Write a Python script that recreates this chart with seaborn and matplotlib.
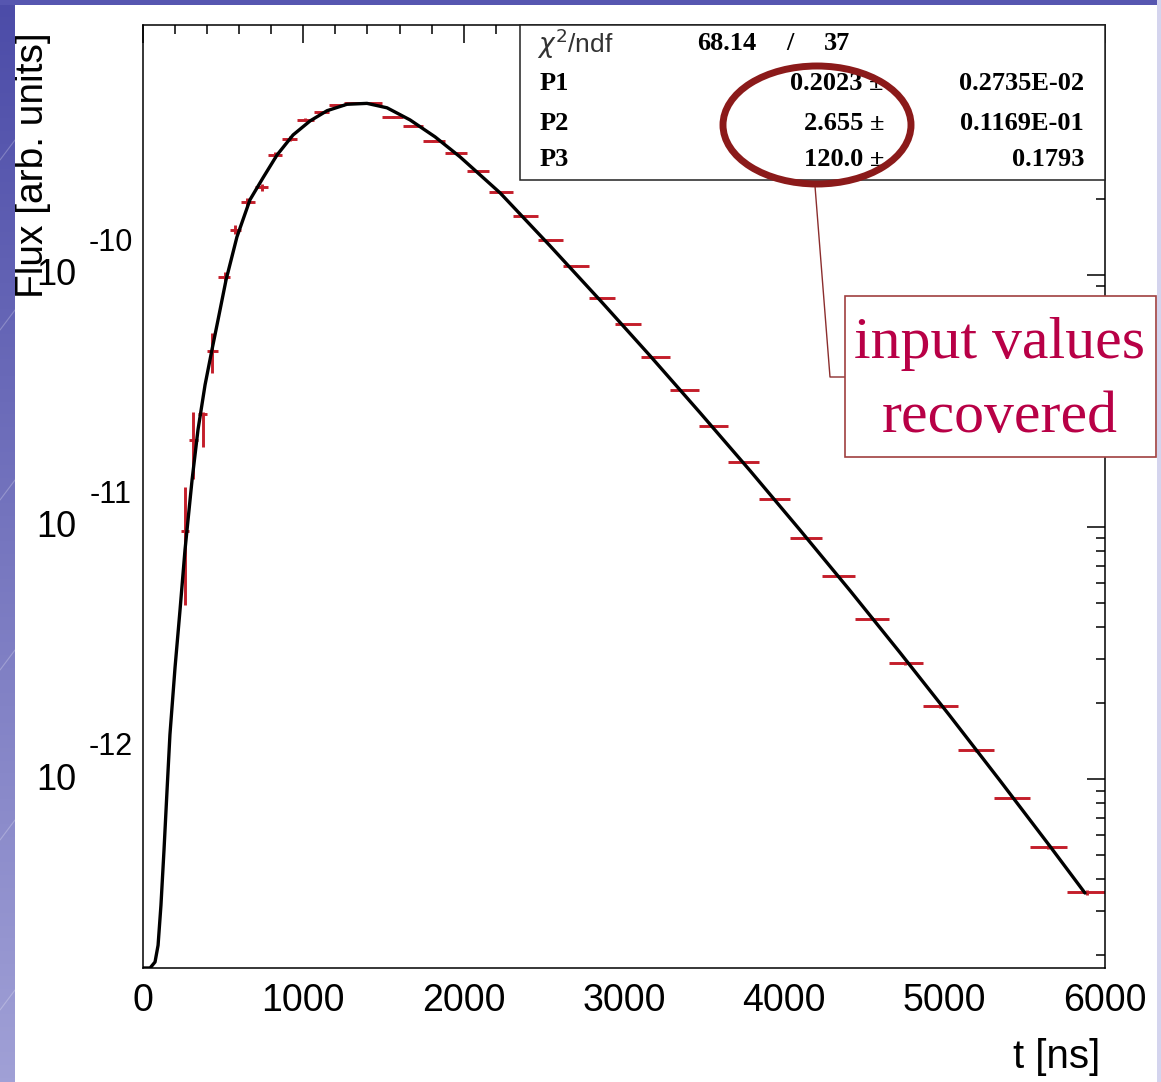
import numpy as np
import matplotlib
matplotlib.use('Agg')
import matplotlib.pyplot as plt
from matplotlib.patches import Rectangle, Ellipse
from matplotlib.lines import Line2D
from matplotlib.ticker import LogLocator, NullFormatter, MultipleLocator
import seaborn as sns

t_bins = [262, 312, 374, 430, 511, 574, 649, 742, 823, 917, 1010, 1123, 1198, 1304, 1428,
          1559, 1684, 1809, 1958, 2089, 2233, 2383, 2538, 2701, 2857, 3025, 3193, 3380,
          3555, 3742, 3936, 4135, 4335, 4547, 4753, 4971, 5195, 5420, 5644, 5888]
flux = [9.64e-12, 2.21e-11, 2.81e-11, 4.99e-11, 9.8e-11, 1.51e-10, 1.95e-10, 2.23e-10,
        2.99e-10, 3.47e-10, 4.12e-10, 4.43e-10, 4.73e-10, 4.81e-10, 4.81e-10, 4.24e-10,
        3.90e-10, 3.40e-10, 3.05e-10, 2.59e-10, 2.13e-10, 1.71e-10, 1.38e-10, 1.08e-10,
        8.11e-11, 6.39e-11, 4.73e-11, 3.50e-11, 2.52e-11, 1.81e-11, 1.29e-11, 9.04e-12,
        6.39e-12, 4.32e-12, 2.88e-12, 1.95e-12, 1.30e-12, 8.41e-13, 5.37e-13, 3.56e-13]
flux_err_lo = [4.75e-12, 6.6e-12, 7.3e-12, 9.0e-12, 5e-12, 6e-12, 7e-12, 7e-12, 8e-12,
               7e-12, 6e-12, 5e-12, 4e-12, 3e-12, 3e-12, 3e-12, 2e-12, 2e-12, 2e-12, 1e-12,
               1e-12, 1e-12, 1e-12, 1e-12, 5e-13, 5e-13, 4e-13, 3e-13, 2e-13, 2e-13, 1e-13,
               1e-13, 8e-14, 6e-14, 4e-14, 3e-14, 2e-14, 1e-14, 1e-14, 8e-15]
flux_err_hi = [4.75e-12, 6.6e-12, 0.5e-12, 9.0e-12, 5e-12, 6e-12, 7e-12, 7e-12, 8e-12,
               7e-12, 6e-12, 5e-12, 4e-12, 3e-12, 3e-12, 3e-12, 2e-12, 2e-12, 2e-12, 1e-12,
               1e-12, 1e-12, 1e-12, 1e-12, 5e-13, 5e-13, 4e-13, 3e-13, 2e-13, 2e-13, 1e-13,
               1e-13, 8e-14, 6e-14, 4e-14, 3e-14, 2e-14, 1e-14, 1e-14, 8e-15]

# fitted function
curve_t = [0, 44, 75, 94, 112, 131, 150, 168, 200, 231, 262, 306, 343, 387, 430, 468, 518,
           586, 667, 749, 836, 936, 1042, 1148, 1272, 1397, 1522, 1665, 1821, 1977, 2227,
           2538, 2850, 3162, 3474, 3786, 4098, 4410, 4722, 5033, 5345, 5657, 5875]
curve_flux = [1.78e-13, 1.78e-13, 1.88e-13, 2.19e-13, 3.16e-13, 5.23e-13, 9.04e-13, 1.50e-12,
              2.78e-12, 4.69e-12, 8.11e-12, 1.536e-11, 2.43e-11, 3.66e-11, 5.04e-11, 6.63e-11,
              9.55e-11, 1.415e-10, 1.985e-10, 2.43e-10, 2.99e-10, 3.59e-10, 4.08e-10, 4.48e-10,
              4.75e-10, 4.79e-10, 4.60e-10, 4.12e-10, 3.53e-10, 2.94e-10, 2.115e-10, 1.305e-10,
              7.94e-11, 4.78e-11, 2.84e-11, 1.673e-11, 9.72e-12, 5.59e-12, 3.17e-12, 1.78e-12,
              9.86e-13, 5.41e-13, 3.53e-13]

# fit statistics box
chi2_text = ['68.14', '/', '37']
par_names = ['P1', 'P2', 'P3']
par_values = ['0.2023', '2.655', '120.0']
par_errors = ['0.2735E-02', '0.1169E-01', '0.1793']

x_ticks = [0, 1000, 2000, 3000, 4000, 5000, 6000]
y_decades = [1e-12, 1e-11, 1e-10]
y_exps = ['-12', '-11', '-10']

sns.set_theme(style="white")
plt.rcParams['font.family'] = ['Liberation Sans', 'DejaVu Sans']
plt.rcParams['mathtext.fontset'] = 'dejavusans'

W, H = 1161, 1082
fig = plt.figure(figsize=(W / 100, H / 100), dpi=100)
fig.patch.set_facecolor('white')


def fx(x):
    return x / W


def fy(y):
    return 1 - y / H


ax = fig.add_axes([fx(143), fy(968), fx(1105) - fx(143), fy(25) - fy(968)])
ax.set_facecolor('white')
ax.set_yscale('log')

sns.lineplot(x=curve_t, y=curve_flux, ax=ax, color='black', lw=2.4, sort=False,
             estimator=None, zorder=3)

t_arr = np.array(t_bins, dtype=float)
d = np.diff(t_arr)
edges = np.concatenate([[t_arr[0] - d[0] / 2], (t_arr[1:] + t_arr[:-1]) / 2, [t_arr[-1] + d[-1] / 2]])
ax.errorbar(t_arr, flux, xerr=[t_arr - edges[:-1], edges[1:] - t_arr],
            yerr=[flux_err_lo, flux_err_hi], fmt='none', ecolor='#C41E2A',
            elinewidth=2.1, capsize=0, zorder=2)

ax.set_xlim(0, 6000)
ax.set_ylim(1.78e-13, 9.8e-10)

for s in ax.spines.values():
    s.set_color('black')
    s.set_linewidth(1.1)
    s.set_visible(True)

ax.xaxis.set_major_locator(MultipleLocator(1000))
ax.xaxis.set_minor_locator(MultipleLocator(200))
ax.set_xticks(x_ticks)
ax.set_xticklabels([str(v) for v in x_ticks])
ax.yaxis.set_major_locator(LogLocator(base=10, numticks=20))
ax.yaxis.set_minor_locator(LogLocator(base=10, subs=np.arange(2, 10), numticks=20))
ax.yaxis.set_major_formatter(NullFormatter())
ax.yaxis.set_minor_formatter(NullFormatter())
ax.tick_params(axis='both', which='major', direction='in', length=13, width=1.1,
               top=True, right=True, color='black')
ax.tick_params(axis='both', which='minor', direction='in', length=6.5, width=1.1,
               top=True, right=True, color='black')
ax.tick_params(axis='x', which='major', labelsize=27, pad=11, labelcolor='black')
ax.set_xlabel('')
ax.set_ylabel('')

# ROOT-style power-of-ten labels
for dec, ex in zip(y_decades, y_exps):
    ax.annotate('10', xy=(0, dec), xycoords=('axes fraction', 'data'),
                xytext=(-62.6, -0.7), textcoords='offset points', ha='center',
                va='center', fontsize=26, color='black')
    ax.annotate(ex, xy=(0, dec), xycoords=('axes fraction', 'data'),
                xytext=(-23.5, 23), textcoords='offset points', ha='center',
                va='center', fontsize=22, color='black')

fig.text(fx(33), fy(165), 'Flux [arb. units]', rotation=90, ha='center', va='center',
         fontsize=28, color='black')
fig.text(fx(1100), fy(1057), 't [ns]', ha='right', va='center', fontsize=29, color='black')

# statistics box
fig.patches.append(Rectangle((fx(520), fy(180)), fx(1105) - fx(520), fy(25) - fy(180),
                             transform=fig.transFigure, facecolor='white', edgecolor='#222222',
                             lw=1.1, zorder=5))
serif_b = dict(family='Liberation Serif', fontweight='bold', fontsize=19, color='black', zorder=6)
fig.text(fx(537), fy(44), r'$\chi^2$/ndf', ha='left', va='center', fontsize=19,
         color='#333333', zorder=6)
fig.text(fx(756), fy(44), chi2_text[0], ha='right', va='center', **serif_b)
fig.text(fx(790), fy(44), chi2_text[1], ha='center', va='center', **serif_b)
fig.text(fx(850), fy(44), chi2_text[2], ha='right', va='center', **serif_b)
for i, (n, v, e) in enumerate(zip(par_names, par_values, par_errors)):
    yy = fy([83, 123, 160][i])
    fig.text(fx(540), yy, n, ha='left', va='center', **serif_b)
    fig.text(fx(884), yy, v + ' \u00b1', ha='right', va='center', **serif_b)
    fig.text(fx(1084), yy, e, ha='right', va='center', **serif_b)

# annotation: ellipse, leader line and callout box
fig.patches.append(Ellipse((fx(817), fy(125)), fx(188), 118 / H,
                           transform=fig.transFigure, facecolor='none',
                           edgecolor='#8B1A1A', lw=5, zorder=7))
fig.lines.append(Line2D([fx(815), fx(830), fx(846)], [fy(186), fy(377), fy(377)],
                        transform=fig.transFigure, color='#8B2D2D', lw=1, zorder=7))
fig.patches.append(Rectangle((fx(845), fy(457)), fx(1156) - fx(845), fy(296) - fy(457),
                             transform=fig.transFigure, facecolor='white',
                             edgecolor='#A04040', lw=1.2, zorder=7))
callout_lines = ['input values', 'recovered']
for txt, yb in zip(callout_lines, [358, 432]):
    fig.text(fx(1000), fy(yb), txt, ha='center', va='baseline', fontsize=43,
             family='Liberation Serif', color='#B80046', zorder=8)

# slide background strips
grad = np.linspace(0, 1, 256).reshape(-1, 1)
cmap = matplotlib.colors.LinearSegmentedColormap.from_list('slide', ['#4c4ca8', '#a0a0d6'])
sax = fig.add_axes([0, 0, fx(15), 1], zorder=10)
sax.imshow(grad, aspect='auto', cmap=cmap, extent=[0, 15, H, 0])
for c in range(-200, 1300, 170):
    sax.plot([0, 15], [c + 20, c], color='white', alpha=0.25, lw=0.8)
sax.set_xlim(0, 15)
sax.set_ylim(H, 0)
sax.axis('off')
tax = fig.add_axes([0, fy(5), 1, 5 / H], zorder=10)
tax.set_facecolor('#5656b0')
tax.set_xticks([])
tax.set_yticks([])
for s in tax.spines.values():
    s.set_visible(False)
rax = fig.add_axes([fx(1157), 0, fx(4), 1], zorder=10)
rax.set_facecolor('#d4d4ee')
rax.set_xticks([])
rax.set_yticks([])
for s in rax.spines.values():
    s.set_visible(False)

plt.savefig('out.png', dpi=100)
plt.close()
